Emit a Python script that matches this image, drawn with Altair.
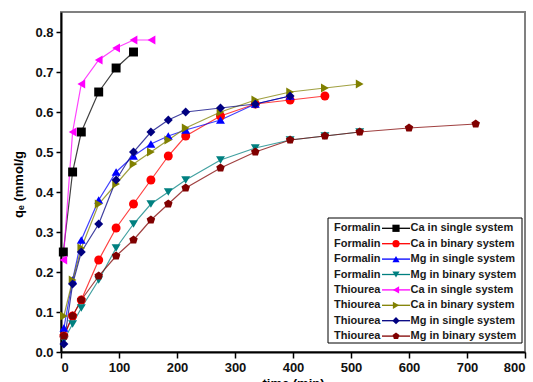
import altair as alt
import pandas as pd

# ---------------- data ----------------
left_labels = ["Formalin"] * 4 + ["Thiourea"] * 4
right_labels = ["Ca in single system", "Ca in binary system",
                "Mg in single system", "Mg in binary system"] * 2
series = [f"{a} {b}" for a, b in zip(left_labels, right_labels)]

t_fca_s = [4, 20, 35, 65, 95, 125]
q_fca_s = [0.25, 0.45, 0.55, 0.65, 0.71, 0.75]

t_fca_b = [5, 20, 35, 65, 95, 125, 155, 185, 215, 275, 335, 395, 455]
q_fca_b = [0.04, 0.09, 0.13, 0.23, 0.31, 0.37, 0.43, 0.49, 0.54, 0.59, 0.62, 0.63, 0.64]

t_fmg_s = [5, 20, 35, 65, 95, 125, 155, 185, 215, 275, 335, 395]
q_fmg_s = [0.06, 0.18, 0.28, 0.38, 0.45, 0.49, 0.52, 0.54, 0.555, 0.58, 0.62, 0.64]

t_fmg_b = [5, 20, 35, 65, 95, 125, 155, 185, 215, 275, 335, 395, 455, 515]
q_fmg_b = [0.03, 0.07, 0.11, 0.18, 0.26, 0.32, 0.37, 0.40, 0.43, 0.48, 0.51, 0.53, 0.54, 0.55]

t_tca_s = [4, 20, 35, 65, 95, 125, 156]
q_tca_s = [0.23, 0.55, 0.67, 0.73, 0.76, 0.78, 0.78]

t_tca_b = [5, 20, 35, 65, 95, 125, 155, 185, 215, 275, 335, 395, 455, 515]
q_tca_b = [0.09, 0.18, 0.26, 0.37, 0.42, 0.47, 0.50, 0.53, 0.56, 0.60, 0.63, 0.65, 0.66, 0.67]

t_tmg_s = [5, 20, 35, 65, 95, 125, 155, 185, 215, 275, 335, 395]
q_tmg_s = [0.02, 0.17, 0.25, 0.32, 0.43, 0.50, 0.55, 0.58, 0.60, 0.61, 0.62, 0.64]

t_tmg_b = [5, 20, 35, 65, 95, 125, 155, 185, 215, 275, 335, 395, 455, 515, 600, 715]
q_tmg_b = [0.04, 0.09, 0.13, 0.19, 0.24, 0.28, 0.33, 0.37, 0.41, 0.46, 0.50, 0.53, 0.54, 0.55, 0.56, 0.57]

times = [t_fca_s, t_fca_b, t_fmg_s, t_fmg_b, t_tca_s, t_tca_b, t_tmg_s, t_tmg_b]
values = [q_fca_s, q_fca_b, q_fmg_s, q_fmg_b, q_tca_s, q_tca_b, q_tmg_s, q_tmg_b]

colors = ["#000000", "#FF0000", "#0000FF", "#008080",
          "#FF00FF", "#808000", "#000080", "#800000"]
PENTAGON = "M0,-1L0.951,-0.309L0.588,0.809L-0.588,0.809L-0.951,-0.309Z"
shapes = ["square", "circle", "triangle-up", "triangle-down",
          "triangle-left", "triangle-right", "diamond", PENTAGON]
sizes = [80, 80, 110, 110, 110, 110, 100, 90]

x_ticks = list(range(0, 801, 50))
y_ticks = [round(i * 0.05, 2) for i in range(17)]

# ---------------- layout ----------------
W, H = 464, 340
XMAX, YMAX = 800, 0.85
FONT = "Liberation Sans"


def px2x(p):
    return p / W * XMAX


def py2y(p):
    return YMAX * (1 - p / H)


rows = []
for s, ts, qs in zip(series, times, values):
    for i, (t, q) in enumerate(zip(ts, qs)):
        rows.append({"series": s, "t": t, "q": q, "idx": i})
df = pd.DataFrame(rows)

color_scale = alt.Scale(domain=series, range=colors)
shape_scale = alt.Scale(domain=series, range=shapes)
size_scale = alt.Scale(domain=series, range=sizes)
leg_size_scale = alt.Scale(domain=series, range=[s * 0.65 for s in sizes])

x_enc = alt.X("t:Q", scale=alt.Scale(domain=[0, XMAX], nice=False, zero=False),
              axis=alt.Axis(values=x_ticks,
                            labelExpr="datum.value % 100 == 0 ? datum.value : ''",
                            tickSize={"condition": {"test": "datum.value % 100 == 0", "value": 6}, "value": 3},
                            title="time (min)", titleFontSize=13, titleFont=FONT,
                            titleFontWeight="bold", titleBaseline="top", titleY=25,
                            labelFontSize=13, labelFont=FONT, labelFontWeight="bold",
                            labelPadding=3, labelColor="#111111",
                            domainColor="black", domainWidth=2, tickColor="black",
                            tickWidth=1.5, grid=False, labelOverlap=False))
y_enc = alt.Y("q:Q", scale=alt.Scale(domain=[0, YMAX], nice=False, zero=False),
              axis=alt.Axis(values=y_ticks,
                            labelExpr="abs(datum.value*10 - round(datum.value*10)) < 0.001 ? format(datum.value, '.1f') : ''",
                            tickSize={"condition": {"test": "abs(datum.value*10 - round(datum.value*10)) < 0.001", "value": 5}, "value": 3},
                            title="qₑ (mmol/g", titleFontSize=13, titleFont=FONT,
                            titleFontWeight="bold", titleAngle=-90, titleBaseline="middle",
                            titleX=-43, titleY=172,
                            labelFontSize=13, labelFont=FONT, labelFontWeight="bold",
                            labelPadding=3, labelColor="#111111",
                            domainColor="black", domainWidth=2, tickColor="black",
                            tickWidth=1.5, grid=False, labelOverlap=False))

base = alt.Chart(df)
lines = base.mark_line(strokeWidth=1.2, opacity=0.75).encode(
    x=x_enc, y=y_enc,
    color=alt.Color("series:N", scale=color_scale, legend=None),
    detail="series:N",
    order="idx:Q",
)
points = base.mark_point(filled=True, opacity=1).encode(
    x="t:Q", y="q:Q",
    color=alt.Color("series:N", scale=color_scale, legend=None),
    shape=alt.Shape("series:N", scale=shape_scale, legend=None),
    size=alt.Size("series:N", scale=size_scale, legend=None),
)

# ---------------- custom legend ----------------
box_l, box_r, box_t, box_b = 267, 461, 206, 331
row0, row_h = 216.3, 15.4
leg_rows = []
for i, (s, a, b) in enumerate(zip(series, left_labels, right_labels)):
    py = row0 + i * row_h
    leg_rows.append({
        "series": s, "left": a, "right": b,
        "y": py2y(py),
        "xl": px2x(273), "x1": px2x(321), "x2": px2x(349),
        "xm": px2x(335), "xr": px2x(349.5),
    })
leg = pd.DataFrame(leg_rows)
box_df = pd.DataFrame([{"x": px2x(box_l), "x2": px2x(box_r),
                        "y": py2y(box_t), "y2": py2y(box_b)}])

box = alt.Chart(box_df).mark_rect(fill="white", stroke="black", strokeWidth=1).encode(
    x="x:Q", x2="x2:Q", y="y:Q", y2="y2:Q")
leg_lines = alt.Chart(leg).mark_rule(strokeWidth=1.3).encode(
    x="x1:Q", x2="x2:Q", y="y:Q",
    color=alt.Color("series:N", scale=color_scale, legend=None))
leg_pts = alt.Chart(leg).mark_point(filled=True, opacity=1).encode(
    x="xm:Q", y="y:Q",
    color=alt.Color("series:N", scale=color_scale, legend=None),
    shape=alt.Shape("series:N", scale=shape_scale, legend=None),
    size=alt.Size("series:N", scale=leg_size_scale, legend=None))
leg_left = alt.Chart(leg).mark_text(align="left", baseline="middle", font=FONT,
                                    fontSize=11, fontWeight="bold", color="#1a1a1a").encode(
    x="xl:Q", y="y:Q", text="left:N")
leg_right = alt.Chart(leg).mark_text(align="left", baseline="middle", font=FONT,
                                     fontSize=11, fontWeight="bold", color="#1a1a1a").encode(
    x="xr:Q", y="y:Q", text="right:N")

chart = alt.layer(lines, points, box, leg_lines, leg_pts, leg_left, leg_right).resolve_scale(
    size="independent"
).properties(
    width=W, height=H,
    autosize=alt.AutoSizeParams(type="none"),
    padding={"left": 61, "top": 12, "right": 8, "bottom": 30},
    background="white",
).configure_view(stroke="#808080", strokeWidth=2)

chart.save("out.html", embed_options={"renderer": "svg", "actions": False})
